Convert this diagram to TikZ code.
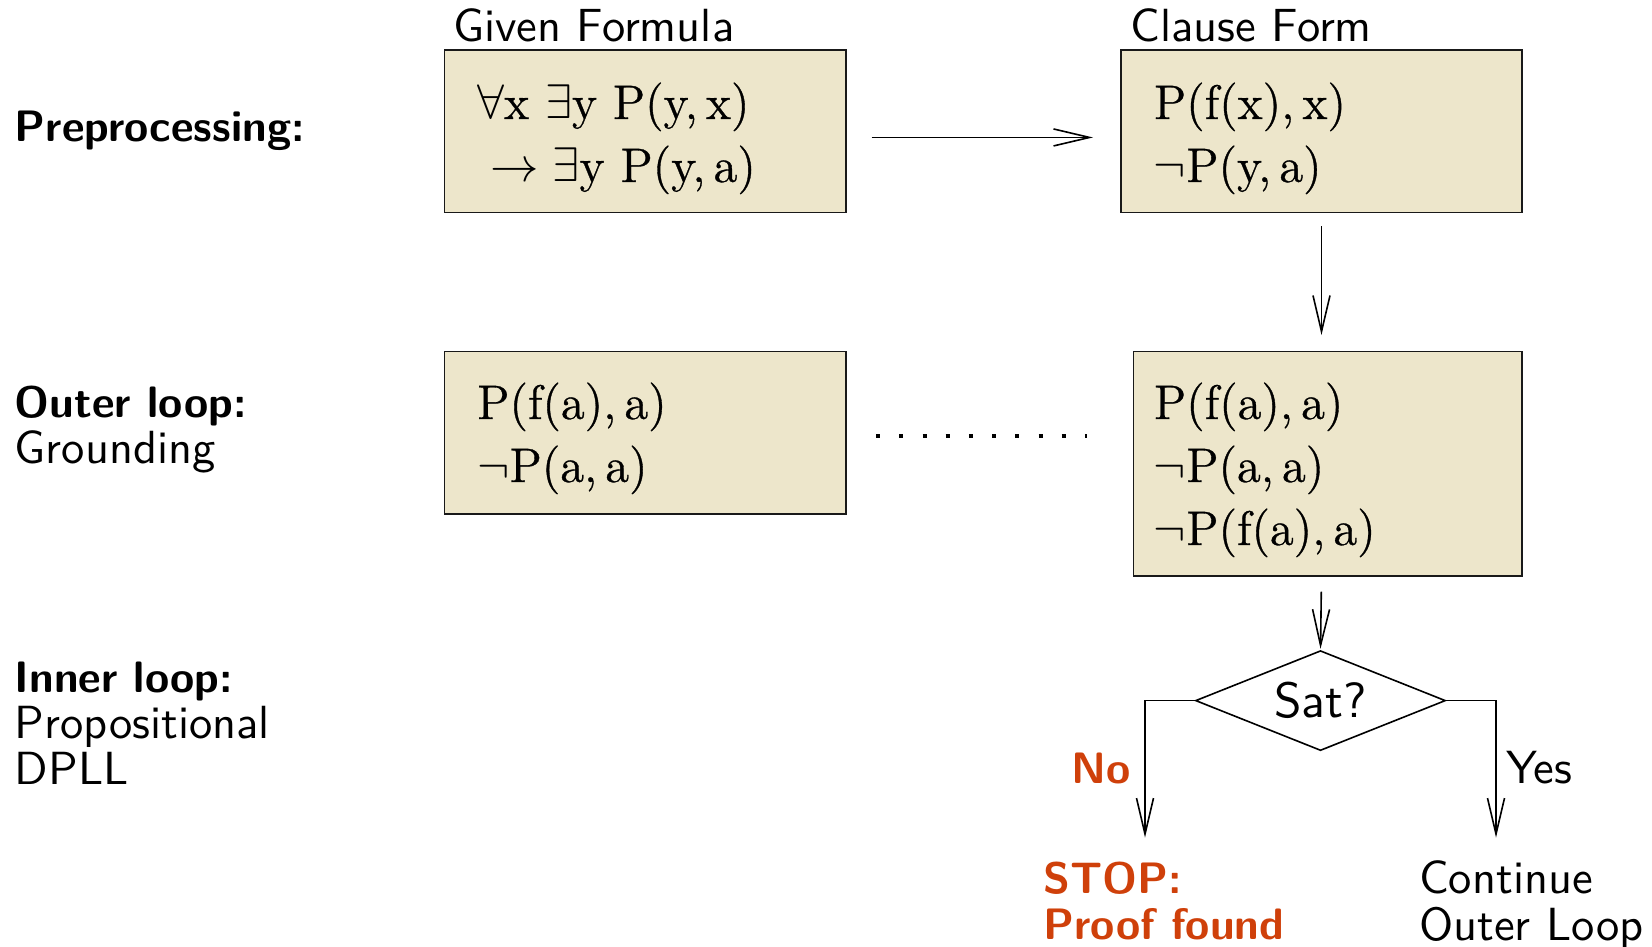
\RequirePackage{fix-cm}
\documentclass[tikz,border=0pt]{standalone}
\usepackage{fontspec}
\newfontfamily\formfont{lmroman12-regular.otf}[FakeBold=0.7]
\setsansfont{lmsans10-regular.otf}[BoldFont=lmsans10-bold.otf]
\usetikzlibrary{arrows.meta,shapes.geometric,calc}
\definecolor{boxfill}{RGB}{237,230,203}
\definecolor{stopred}{RGB}{207,64,10}
\begin{document}
\begin{tikzpicture}[x=1pt,y=1pt,
  box/.style={draw=black!90, fill=boxfill, line width=1.6pt, inner sep=0pt, anchor=north west},
  mathtxt/.style={anchor=base west, inner sep=0pt, font=\fontsize{48.5}{63}\selectfont\formfont},
  sanstxt/.style={anchor=base west, inner sep=0pt, font=\fontsize{46.5}{46}\selectfont\sffamily},
  boldtxt/.style={anchor=base west, inner sep=0pt, font=\fontsize{44}{46}\selectfont\sffamily\bfseries},
  arr/.style={-{Straight Barb[length=36pt,width=17pt]}, line width=1.6pt},
  dotline/.style={line width=4pt, dash pattern=on 4pt off 19.2pt},
  decision/.style={diamond, draw, line width=1.6pt, aspect=2.5, minimum width=250pt, minimum height=100pt, inner sep=0pt, font=\fontsize{49.5}{50}\selectfont\sffamily}]
\useasboundingbox (0,0) rectangle (1652,-947);

% left labels
\node[boldtxt] (pre) at (14.7,-142) {Preprocessing:};
\node[sanstxt] (outer) at (14.7,-417) {\begin{tabular}[t]{@{}l@{}}\fontsize{44}{46}\selectfont\bfseries Outer loop:\\Grounding\end{tabular}};
\node[sanstxt] (inner) at (14.7,-692) {\begin{tabular}[t]{@{}l@{}}\fontsize{44}{46}\selectfont\bfseries Inner loop:\\Propositional\\DPLL\end{tabular}};

% headers
\node[sanstxt] (ghead) at (453,-42) {Given Formula};
\node[sanstxt] (chead) at (1130.5,-42) {Clause Form};

% boxes
\node[box, minimum width=401.4pt, minimum height=162.3pt] (G) at (443.6,-49.5) {};
\node[box, minimum width=401.4pt, minimum height=162.3pt] (C) at (1120,-49.5) {};
\node[box, minimum width=401.4pt, minimum height=162.2pt] (L) at (443.6,-350.8) {};
\node[box, minimum width=388.4pt, minimum height=224.2pt] (R) at (1132.6,-350.8) {};

% box contents
\node[mathtxt] (gt) at (477,-119) {\begin{tabular}[t]{@{}l@{}}$\forall$x $\exists$y P(y,\,x)\\$\;\rightarrow\exists$y P(y,\,a)\end{tabular}};
\node[mathtxt] (ct) at (1153.7,-119) {\begin{tabular}[t]{@{}l@{}}P(f(x),\,x)\\$\neg$P(y,\,a)\end{tabular}};
\node[mathtxt] (lt) at (477,-419) {\begin{tabular}[t]{@{}l@{}}P(f(a),\,a)\\$\neg$P(a,\,a)\end{tabular}};
\node[mathtxt] (rt) at (1153.7,-419) {\begin{tabular}[t]{@{}l@{}}P(f(a),\,a)\\$\neg$P(a,\,a)\\$\neg$P(f(a),\,a)\end{tabular}};

% decision
\node[decision] (sat) at (1320.5,-700.6) {Sat?};
\coordinate (noend) at (1145,-837.6);
\coordinate (yesend) at (1496,-837.6);

% outcome labels
\node[boldtxt, text=stopred] (no) at (1071.5,-783) {No};
\node[sanstxt] (yes) at (1506,-783) {Yes};
\node[boldtxt, text=stopred] (stop) at (1043,-893.5) {\begin{tabular}[t]{@{}l@{}}STOP:\\Proof found\end{tabular}};
\node[sanstxt] (cont) at (1419,-893.5) {\begin{tabular}[t]{@{}l@{}}Continue\\Outer Loop\end{tabular}};

% connectors
\draw[arr, shorten <=25pt, shorten >=27pt] ([yshift=-6pt]G.east) -- ([yshift=-6pt]C.west);
\draw[arr, shorten <=12.6pt, shorten >=15.8pt] (C.south) -- (C.south |- R.north);
\draw[arr, shorten <=15pt, shorten >=1pt] (C.south |- R.south) -- (sat.north);
\draw[dotline] ($(L.east)+(29.5,-3)$) -- ($(L.east -| R.west)+(-46,-3)$);
\draw[arr] (sat.west) -| (noend);
\draw[arr] (sat.east) -| (yesend);
\end{tikzpicture}
\end{document}
